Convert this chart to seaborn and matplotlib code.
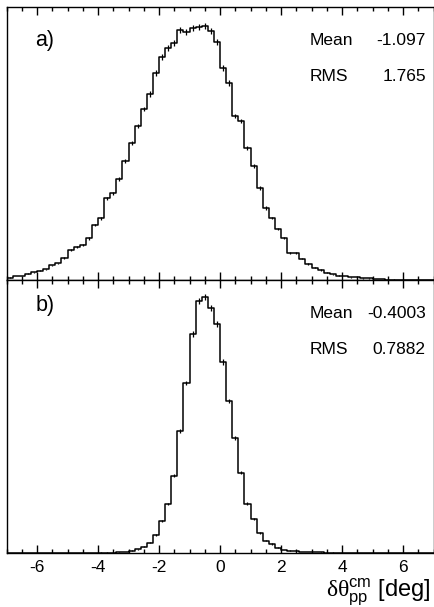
import numpy as np
import pandas as pd
import matplotlib
matplotlib.use("Agg")
import matplotlib.pyplot as plt
import seaborn as sns
from matplotlib.ticker import MultipleLocator

# ---------------- data ----------------
x_min, x_max, bin_width = -7.0, 7.0, 0.2

counts_a = [64, 112, 112, 176, 216, 260, 300, 412, 468, 608,
            840, 924, 980, 1168, 1540, 1728, 2288, 2428, 2820, 3340,
            3836, 4312, 4788, 5208, 5796, 6244, 6496, 6636, 7000, 6944,
            7056, 7084, 7112, 6972, 6664, 5936, 5516, 4592, 4452, 3696,
            3192, 2576, 2016, 1736, 1428, 1176, 756, 745, 602, 448,
            350, 280, 204, 160, 120, 115, 76, 72, 48, 45,
            28, 26, 14, 12, 10, 8, 7, 6, 5, 4]

counts_b = [3, 3, 3, 4, 4, 4, 5, 5, 6, 6,
            6, 7, 8, 9, 10, 11, 12, 14, 17, 22,
            64, 104, 176, 288, 504, 904, 1372, 2164, 3424, 4760,
            6124, 7056, 7160, 6860, 6404, 5348, 4256, 3228, 2248, 1386,
            952, 552, 344, 252, 148, 84, 64, 64, 36, 28,
            22, 17, 14, 11, 9, 8, 7, 6, 6, 5,
            5, 4, 4, 4, 3, 3, 3, 3, 2, 2]

panel_labels = ["a)", "b)"]
stat_names = ["Mean", "RMS"]
stats_a = ["-1.097", "1.765"]
stats_b = ["-0.4003", "0.7882"]
tick_values = [-6, -4, -2, 0, 2, 4, 6]
tick_labels = ["-6", "-4", "-2", "0", "2", "4", "6"]
x_label = r"$\mathsf{\delta\theta}_{\mathrm{pp}}^{\mathrm{cm}}$ [deg]"

# ---------------- style ----------------
sns.set_style("ticks")
plt.rcParams["font.family"] = ["Liberation Sans", "DejaVu Sans"]
plt.rcParams["axes.unicode_minus"] = False
plt.rcParams["mathtext.fontset"] = "custom"
plt.rcParams["mathtext.rm"] = "Liberation Sans"
plt.rcParams["mathtext.it"] = "Liberation Sans:italic"
plt.rcParams["mathtext.sf"] = "Liberation Serif"
plt.rcParams["text.color"] = "black"
plt.rcParams["xtick.color"] = "black"
plt.rcParams["xtick.labelcolor"] = "black"
plt.rcParams["axes.labelcolor"] = "black"

n_bins = len(counts_a)
centers = x_min + bin_width * (np.arange(n_bins) + 0.5)

fig = plt.figure(figsize=(4.34, 6.07), dpi=100)
left, width = 6.5 / 434, 427 / 434
h = 273 / 607
ax_a = fig.add_axes([left, (607 - 280) / 607, width, h])
ax_b = fig.add_axes([left, (607 - 553) / 607, width, h])

ymax = 7644

for ax, counts, stats, lab, lab_y in [
    (ax_a, counts_a, stats_a, panel_labels[0], 0.857),
    (ax_b, counts_b, stats_b, panel_labels[1], 0.886),
]:
    df = pd.DataFrame({"x": centers, "n": np.asarray(counts, dtype=float)})
    sns.histplot(data=df, x="x", weights="n", binwidth=bin_width,
                 binrange=(x_min, x_max), element="step",
                 fill=False, color="black", linewidth=1.1, ax=ax)
    ax.errorbar(df["x"], df["n"], yerr=np.sqrt(df["n"]), fmt="none",
                ecolor="black", elinewidth=0.9, capsize=0)
    ax.set_xlim(x_min, x_max)
    ax.set_ylim(0, ymax)
    ax.set_yticks([])
    ax.set_ylabel("")
    ax.set_xlabel("")
    for sp in ax.spines.values():
        sp.set_visible(True)
        sp.set_linewidth(1.0)
        sp.set_color("black")
    ax.set_xticks(tick_values)
    ax.xaxis.set_minor_locator(MultipleLocator(0.5))
    ax.tick_params(axis="x", which="both", direction="in", top=True,
                   bottom=True, width=1.0, color="black")
    ax.tick_params(axis="x", which="major", length=6)
    ax.tick_params(axis="x", which="minor", length=3)
    ax.text(0.067, lab_y, lab, transform=ax.transAxes, fontsize=15.5,
            ha="left", va="baseline", color="black")
    for i, (nm, val) in enumerate(zip(stat_names, stats)):
        yy = [0.861, 0.729][i]
        ax.text(0.711, yy, nm, transform=ax.transAxes, fontsize=12.5,
                ha="left", va="baseline", color="black")
        ax.text(0.982, yy, val, transform=ax.transAxes, fontsize=12.5,
                ha="right", va="baseline", color="black")

ax_a.tick_params(axis="x", labelbottom=False)
ax_b.set_xticklabels(tick_labels, fontsize=12.5, color="black")
ax_b.tick_params(axis="x", which="major", pad=5)

fig.text(0.993, 0.017, x_label, ha="right", va="baseline", fontsize=17,
         color="black")

fig.savefig("out.png", dpi=100)
